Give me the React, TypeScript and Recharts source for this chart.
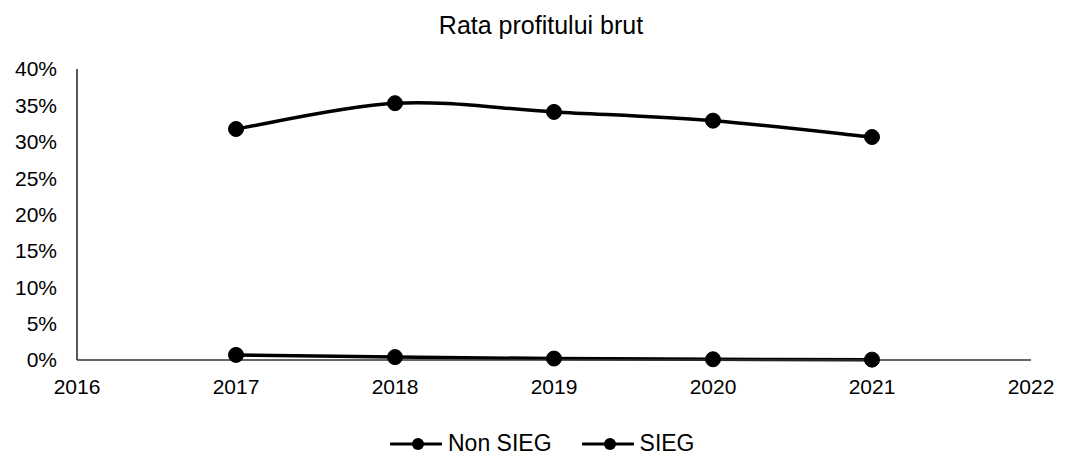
import React from 'react';
import { LineChart, Line, XAxis, YAxis } from 'recharts';

const years = [2017, 2018, 2019, 2020, 2021];
const nonSieg = [0.3175, 0.353, 0.341, 0.329, 0.3065];
const sieg = [0.007, 0.004, 0.002, 0.001, 0.0005];
const xTicks = [2016, 2017, 2018, 2019, 2020, 2021, 2022];
const yTicks = [0, 0.05, 0.1, 0.15, 0.2, 0.25, 0.3, 0.35, 0.4];
const seriesNames = ['Non SIEG', 'SIEG'];

const data = years.map((year, i) => ({
  year,
  nonSieg: nonSieg[i],
  sieg: sieg[i],
}));

const FONT = 'Arial, "Liberation Sans", Helvetica, sans-serif';

// Excel-style smoothed line (Catmull-Rom through the points)
const smoothCurve = (context: any) => {
  let pts: number[][] = [];
  return {
    areaStart() {},
    areaEnd() {},
    lineStart() {
      pts = [];
    },
    point(x: number, y: number) {
      pts.push([+x, +y]);
    },
    lineEnd() {
      if (!pts.length) return;
      context.moveTo(pts[0][0], pts[0][1]);
      for (let i = 0; i < pts.length - 1; i++) {
        const p0 = pts[i - 1] || pts[i];
        const p1 = pts[i];
        const p2 = pts[i + 1];
        const p3 = pts[i + 2] || p2;
        const t = 1 / 6;
        context.bezierCurveTo(
          p1[0] + (p2[0] - p0[0]) * t,
          p1[1] + (p2[1] - p0[1]) * t,
          p2[0] - (p3[0] - p1[0]) * t,
          p2[1] - (p3[1] - p1[1]) * t,
          p2[0],
          p2[1]
        );
      }
    },
  };
};

const LegendIcon = () => (
  <svg width={53} height={18} style={{ display: 'block' }}>
    <line x1={1} y1={9} x2={53} y2={9} stroke="#000" strokeWidth={3} />
    <circle cx={29} cy={9} r={6} fill="#000" />
  </svg>
);

export default function App() {
  return (
    <div style={{ position: 'absolute', left: 0, top: 0, width: 1068, height: 457, background: '#fff' }}>
      <div
        style={{
          position: 'absolute',
          top: 13,
          left: 341,
          width: 400,
          textAlign: 'center',
          fontFamily: FONT,
          fontSize: 25,
          lineHeight: '25px',
          color: '#000',
        }}
      >
        Rata profitului brut
      </div>
      <LineChart
        width={1068}
        height={457}
        data={data}
        margin={{ top: 69, right: 37, left: 0, bottom: 67 }}
      >
        <XAxis
          dataKey="year"
          type="number"
          domain={[2016, 2022]}
          ticks={xTicks}
          height={30}
          tickLine={false}
          axisLine={{ stroke: '#333', strokeWidth: 1.5 }}
          tick={{ fill: '#000', fontSize: 21, fontFamily: FONT }}
          tickMargin={13}
          interval={0}
        />
        <YAxis
          type="number"
          domain={[0, 0.4]}
          ticks={yTicks}
          width={77}
          tickLine={false}
          axisLine={{ stroke: '#222', strokeWidth: 1.5 }}
          tick={{ fill: '#000', fontSize: 21, fontFamily: FONT }}
          tickMargin={14}
          tickFormatter={(v: number) => `${Math.round(v * 100)}%`}
        />
        <Line
          type={smoothCurve as any}
          dataKey="nonSieg"
          name={seriesNames[0]}
          stroke="#000"
          strokeWidth={3.5}
          dot={{ r: 7.5, fill: '#000', stroke: '#000', strokeWidth: 1, clipDot: false }}
          isAnimationActive={false}
        />
        <Line
          type={smoothCurve as any}
          dataKey="sieg"
          name={seriesNames[1]}
          stroke="#000"
          strokeWidth={3.5}
          dot={{ r: 7.5, fill: '#000', stroke: '#000', strokeWidth: 1, clipDot: false }}
          isAnimationActive={false}
        />
      </LineChart>
      <div
        style={{
          position: 'absolute',
          top: 432,
          left: 389,
          display: 'flex',
          alignItems: 'center',
          fontFamily: FONT,
          fontSize: 23,
          lineHeight: '23px',
          color: '#000',
          whiteSpace: 'nowrap',
        }}
      >
        {seriesNames.map((name, i) => (
          <span key={name} style={{ display: 'flex', alignItems: 'center', marginLeft: i === 0 ? 0 : 29 }}>
            <LegendIcon />
            <span style={{ marginLeft: 6 }}>{name}</span>
          </span>
        ))}
      </div>
    </div>
  );
}
